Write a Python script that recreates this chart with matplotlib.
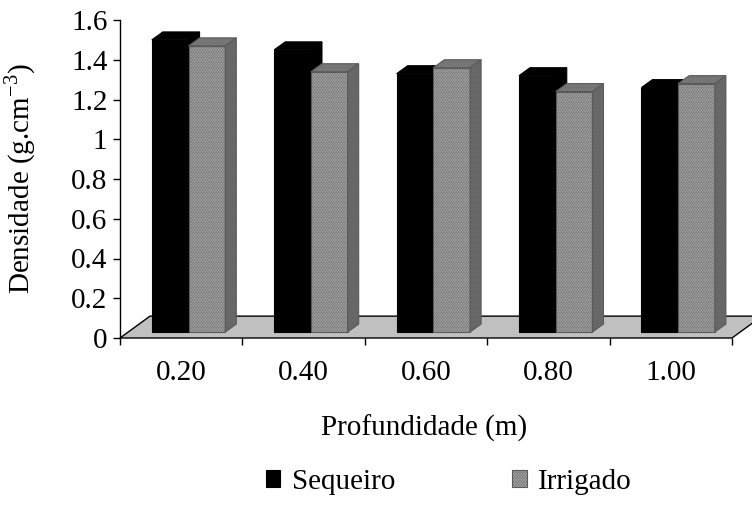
import matplotlib
matplotlib.use("Agg")
import matplotlib.pyplot as plt
from matplotlib.patches import Polygon, Patch

# dados
profundidades = ['0.20', '0.40', '0.60', '0.80', '1.00']
sequeiro = [1.47, 1.42, 1.30, 1.29, 1.23]
irrigado = [1.44, 1.31, 1.33, 1.21, 1.25]
series = ['Sequeiro', 'Irrigado']

plt.rcParams['font.family'] = ['Liberation Serif', 'DejaVu Serif']
plt.rcParams['mathtext.fontset'] = 'custom'
plt.rcParams['mathtext.rm'] = 'Liberation Serif'
plt.rcParams['hatch.linewidth'] = 1.0

FS = 21
fonte = {'family': 'Liberation Serif', 'size': FS}

# aparencia de cada serie: frente, topo, lado
estilo = {
    'Sequeiro': dict(front='black', top='black', side='black', edge='black', hatch=None),
    'Irrigado': dict(front='#d4d4d4', top='#9a9a9a', side='#7a7a7a', edge='#5a5a5a', hatch='..........'),
}

fig = plt.figure(figsize=(7.52, 5.05), dpi=100)
ax = fig.add_axes([120 / 752, 1 - 338 / 505, 612 / 752, 318 / 505])
ax.set_xlim(0, len(profundidades))
ax.set_ylim(0, 1.6)

# perspectiva (unidades de dados)
dxF, dyF = 0.245, 0.11      # profundidade do piso
ox, oy = 0.06, 0.03         # deslocamento da face frontal das barras
dx, dy = 0.09, 0.04         # profundidade das barras
larg = 0.30

n = len(profundidades)
piso = Polygon([(0, 0), (dxF, dyF), (n + dxF, dyF), (n, 0)], closed=True,
               facecolor='#c0c0c0', edgecolor='black', lw=1, clip_on=False, zorder=1)
ax.add_patch(piso)

for j in range(n):
    for i, (nome, vals) in enumerate(zip(series, [sequeiro, irrigado])):
        s = estilo[nome]
        h = vals[j]
        xl = j + 0.2 + i * larg + ox
        xr = xl + larg
        z = 3 + j * 2 + i
        ax.bar(xl, h, width=larg, bottom=oy, align='edge', color=s['front'],
               edgecolor=s['edge'], hatch=s['hatch'], lw=0.8, zorder=z, clip_on=False)
        topo = Polygon([(xl, oy + h), (xl + dx, oy + h + dy), (xr + dx, oy + h + dy), (xr, oy + h)],
                       closed=True, facecolor=s['top'], edgecolor=s['edge'], hatch=s['hatch'],
                       lw=0.8, zorder=z, clip_on=False)
        lado = Polygon([(xr, oy), (xr + dx, oy + dy), (xr + dx, oy + h + dy), (xr, oy + h)],
                       closed=True, facecolor=s['side'], edgecolor=s['edge'], hatch=s['hatch'],
                       lw=0.8, zorder=z, clip_on=False)
        ax.add_patch(topo)
        ax.add_patch(lado)

for sp in ['top', 'right', 'bottom']:
    ax.spines[sp].set_visible(False)
ax.spines['left'].set_linewidth(1)

ax.set_yticks([0, 0.2, 0.4, 0.6, 0.8, 1, 1.2, 1.4, 1.6])
ax.set_yticklabels(['0', '0.2', '0.4', '0.6', '0.8', '1', '1.2', '1.4', '1.6'], fontdict=fonte)
ax.tick_params(axis='y', direction='out', length=5, width=1, pad=4)

ax.set_xticks(range(n + 1))
ax.set_xticklabels([])
ax.set_xticks([j + 0.5 for j in range(n)], minor=True)
ax.set_xticklabels(profundidades, minor=True, fontdict=fonte)
ax.tick_params(axis='x', which='major', direction='out', length=5, width=1)
ax.tick_params(axis='x', which='minor', length=0, pad=16)

ax.set_ylabel(r'Densidade (g.cm$^{-3}$)', fontdict=fonte)
ax.yaxis.set_label_coords(-0.134, 0.5)
ax.set_xlabel('Profundidade (m)', fontdict=fonte)
ax.xaxis.set_label_coords(0.497, -0.285)
ax.xaxis.label.set_va('center')

handles = [Patch(facecolor=estilo[k]['front'], edgecolor=estilo[k]['edge'],
                 hatch=estilo[k]['hatch'], lw=0.8) for k in series]
fig.legend(handles, series, loc='center', bbox_to_anchor=(449 / 752, 1 - 482 / 505),
           ncol=2, frameon=False, prop=fonte, handlelength=0.5, handleheight=0.5,
           handletextpad=0.4, columnspacing=4.0)

fig.savefig('out.png', dpi=100)
